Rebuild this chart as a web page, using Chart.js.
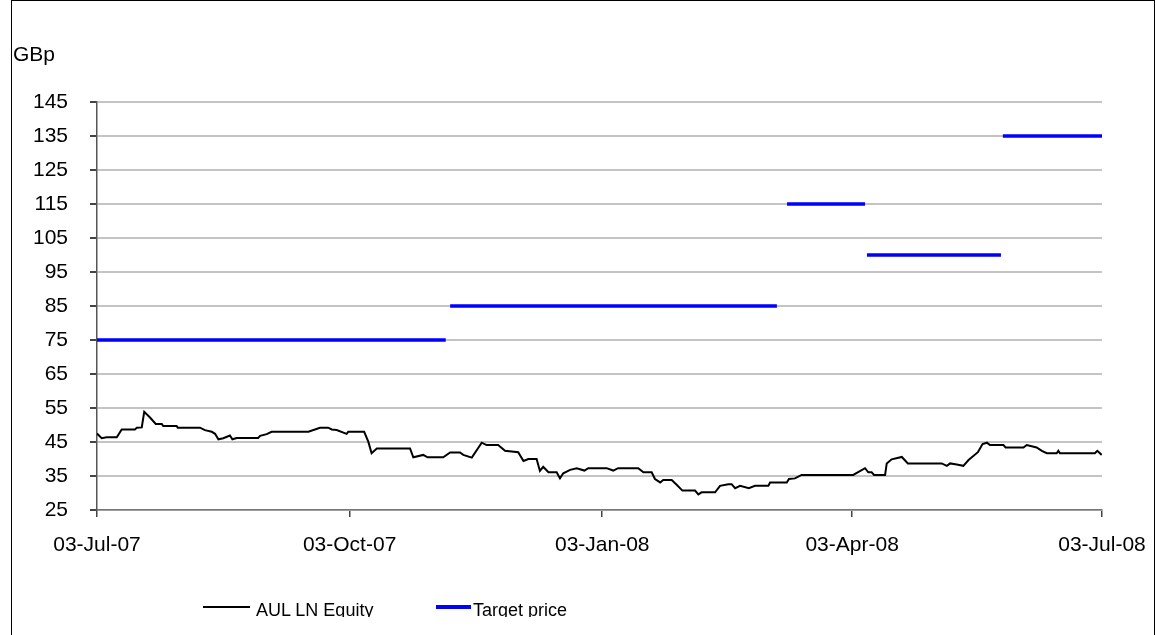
<!DOCTYPE html>
<html>
<head>
<meta charset="utf-8">
<script src="https://cdn.jsdelivr.net/npm/chart.js@4.4.0/dist/chart.umd.min.js"></script>
<style>
  html, body { margin: 0; padding: 0; background: #fff; overflow: hidden; }
  #wrap { position: relative; width: 1155px; height: 635px; }
  #frame { position: absolute; left: 11px; top: 0; width: 1142px; height: 700px; border: 1px solid #000; }
  #chart { position: absolute; left: 0; top: 0; }
  #gbp { position: absolute; left: 13px; top: 42px; font: 21px "Liberation Sans", Arial, sans-serif; color: #000; }
  #legend { position: absolute; left: 0; top: 0; width: 1155px; height: 617px; overflow: hidden; pointer-events: none; }
  .lg-line { position: absolute; top: 606px; }
  .lg-text { position: absolute; top: 600px; font: 18px "Liberation Sans", Arial, sans-serif; line-height: 20px; color: #000; white-space: nowrap; }
</style>
</head>
<body>
<div id="wrap">
  <div id="frame"></div>
  <canvas id="chart" width="1155" height="635"></canvas>
  <div id="gbp">GBp</div>
  <div id="legend">
    <div class="lg-line" style="left:203px;width:47px;height:2px;background:#000;"></div>
    <div class="lg-text" style="left:256px;">AUL LN Equity</div>
    <div class="lg-line" style="left:436px;width:35px;height:4px;top:605px;background:#0000ff;"></div>
    <div class="lg-text" style="left:473px;">Target price</div>
  </div>
</div>
<script>
// x values are days since 03-Jul-07
const tickDays = [0, 92, 184, 275, 366];
const tickLabels = ['03-Jul-07', '03-Oct-07', '03-Jan-08', '03-Apr-08', '03-Jul-08'];

// AUL LN Equity price (GBp)
const priceDays = [
  0, 1.7, 3.5, 7.2, 9.0, 13.8, 14.5, 16.3, 17.2, 19.3, 21.4, 23.6, 24.1, 29.0, 29.4, 37.5,
  39.3, 41.8, 43.0, 44.2, 46.0, 48.4, 49.3, 50.9, 58.7, 59.4, 61.8, 63.6, 77.0, 81.2, 84.2,
  85.5, 87.3, 90.9, 91.5, 97.3, 98.8, 100.0, 101.9, 114.0, 115.2, 118.8, 120.4, 126.1, 128.6,
  132.2, 133.4, 136.5, 140.1, 141.9, 146.1, 148.6, 153.4, 155.3, 157.1, 160.1, 161.3, 162.5,
  164.4, 167.4, 168.6, 169.8, 172.3, 174.7, 177.5, 178.9, 185.6, 188.0, 189.8, 197.1, 199.0,
  202.0, 203.2, 205.1, 206.2, 209.3, 211.1, 213.2, 217.8, 219.0, 220.2, 225.1, 226.9, 229.9,
  231.1, 232.4, 234.2, 237.4, 239.6, 244.5, 245.1, 251.2, 252.0, 254.2, 256.6, 275.4, 279.7,
  280.9, 282.1, 283.0, 287.0, 287.6, 289.4, 293.1, 295.3, 307.6, 309.5, 310.7, 313.1, 315.5,
  317.4, 320.8, 322.5, 324.1, 325.2, 330.1, 330.9, 337.4, 338.6, 342.2, 344.1, 345.9, 349.5,
  350.1, 350.7, 363.4, 364.3, 365.9
];
const priceValues = [
  47.5, 46.1, 46.4, 46.4, 48.7, 48.7, 49.2, 49.3, 53.9, 52.2, 50.3, 50.3, 49.7, 49.7, 49.2, 49.2,
  48.5, 48.0, 47.4, 45.8, 46.1, 46.9, 45.8, 46.2, 46.2, 46.8, 47.3, 48.0, 48.0, 49.2, 49.2,
  48.7, 48.5, 47.4, 48.0, 48.0, 45.1, 41.7, 43.1, 43.1, 40.5, 41.2, 40.5, 40.5, 41.9,
  41.9, 41.2, 40.4, 44.8, 44.1, 44.1, 42.4, 42.0, 39.4, 40.0, 40.0, 36.5, 37.7,
  36.1, 36.1, 34.3, 35.8, 36.8, 37.3, 36.6, 37.3, 37.3, 36.6, 37.3, 37.3, 36.1,
  36.1, 34.1, 33.1, 33.8, 33.8, 32.4, 30.7, 30.7, 29.6, 30.2, 30.2, 32.1, 32.6,
  32.6, 31.4, 32.1, 31.4, 32.1, 32.1, 33.1, 33.1, 34.1, 34.3, 35.3, 35.3, 37.3,
  36.1, 36.1, 35.3, 35.3, 38.7, 39.9, 40.6, 38.7, 38.7, 38.0, 38.7, 38.4, 38.0,
  39.7, 42.0, 44.4, 44.8, 44.1, 44.1, 43.4, 43.4, 44.1, 43.4, 42.4, 41.7, 41.7,
  42.4, 41.7, 41.7, 42.4, 41.2
];

// Target price periods
const targetStart = [0, 128.6, 251.3, 280.4, 329.9];
const targetEnd = [127.0, 247.6, 279.7, 329.2, 366];
const targetValue = [75, 85, 115, 100, 135];

const priceData = priceDays.map((d, i) => ({ x: d, y: priceValues[i] }));
const targetData = [];
targetValue.forEach((v, i) => {
  targetData.push({ x: targetStart[i], y: v });
  targetData.push({ x: targetEnd[i], y: v });
  if (i < targetValue.length - 1) targetData.push({ x: (targetEnd[i] + targetStart[i + 1]) / 2, y: null });
});

const font = { family: '"Liberation Sans", Arial, sans-serif', size: 21 };

new Chart(document.getElementById('chart').getContext('2d'), {
  type: 'line',
  data: {
    datasets: [
      {
        label: 'AUL LN Equity',
        data: priceData,
        borderColor: '#000',
        borderWidth: 2,
        pointRadius: 0,
        tension: 0
      },
      {
        label: 'Target price',
        data: targetData,
        borderColor: '#0000ff',
        borderWidth: 3.5,
        pointRadius: 0,
        spanGaps: false,
        tension: 0
      }
    ]
  },
  options: {
    responsive: false,
    animation: false,
    layout: { padding: { left: 0, top: 102, right: 53, bottom: 65 } },
    plugins: { legend: { display: false }, tooltip: { enabled: false } },
    scales: {
      x: {
        type: 'linear',
        min: 0,
        max: 366,
        afterBuildTicks: scale => { scale.ticks = tickDays.map(v => ({ value: v })); },
        afterFit: scale => { scale.height = 60; scale.paddingLeft = 0; scale.paddingRight = 0; },
        ticks: {
          autoSkip: false,
          maxRotation: 0,
          padding: 16,
          color: '#000',
          font: font,
          callback: value => tickLabels[tickDays.indexOf(value)]
        },
        grid: { drawOnChartArea: false, tickLength: 7, tickColor: '#444', lineWidth: 1.5 },
        border: { color: '#777', width: 1.5 }
      },
      y: {
        min: 25,
        max: 145,
        afterFit: scale => { scale.width = 97; scale.paddingTop = 0; scale.paddingBottom = 0; },
        ticks: { stepSize: 10, padding: 22, color: '#000', font: font },
        grid: { color: '#c4c4c4', lineWidth: 2, tickLength: 7, tickColor: '#444' },
        border: { color: '#555', width: 1.5 }
      }
    }
  }
});
</script>
</body>
</html>
